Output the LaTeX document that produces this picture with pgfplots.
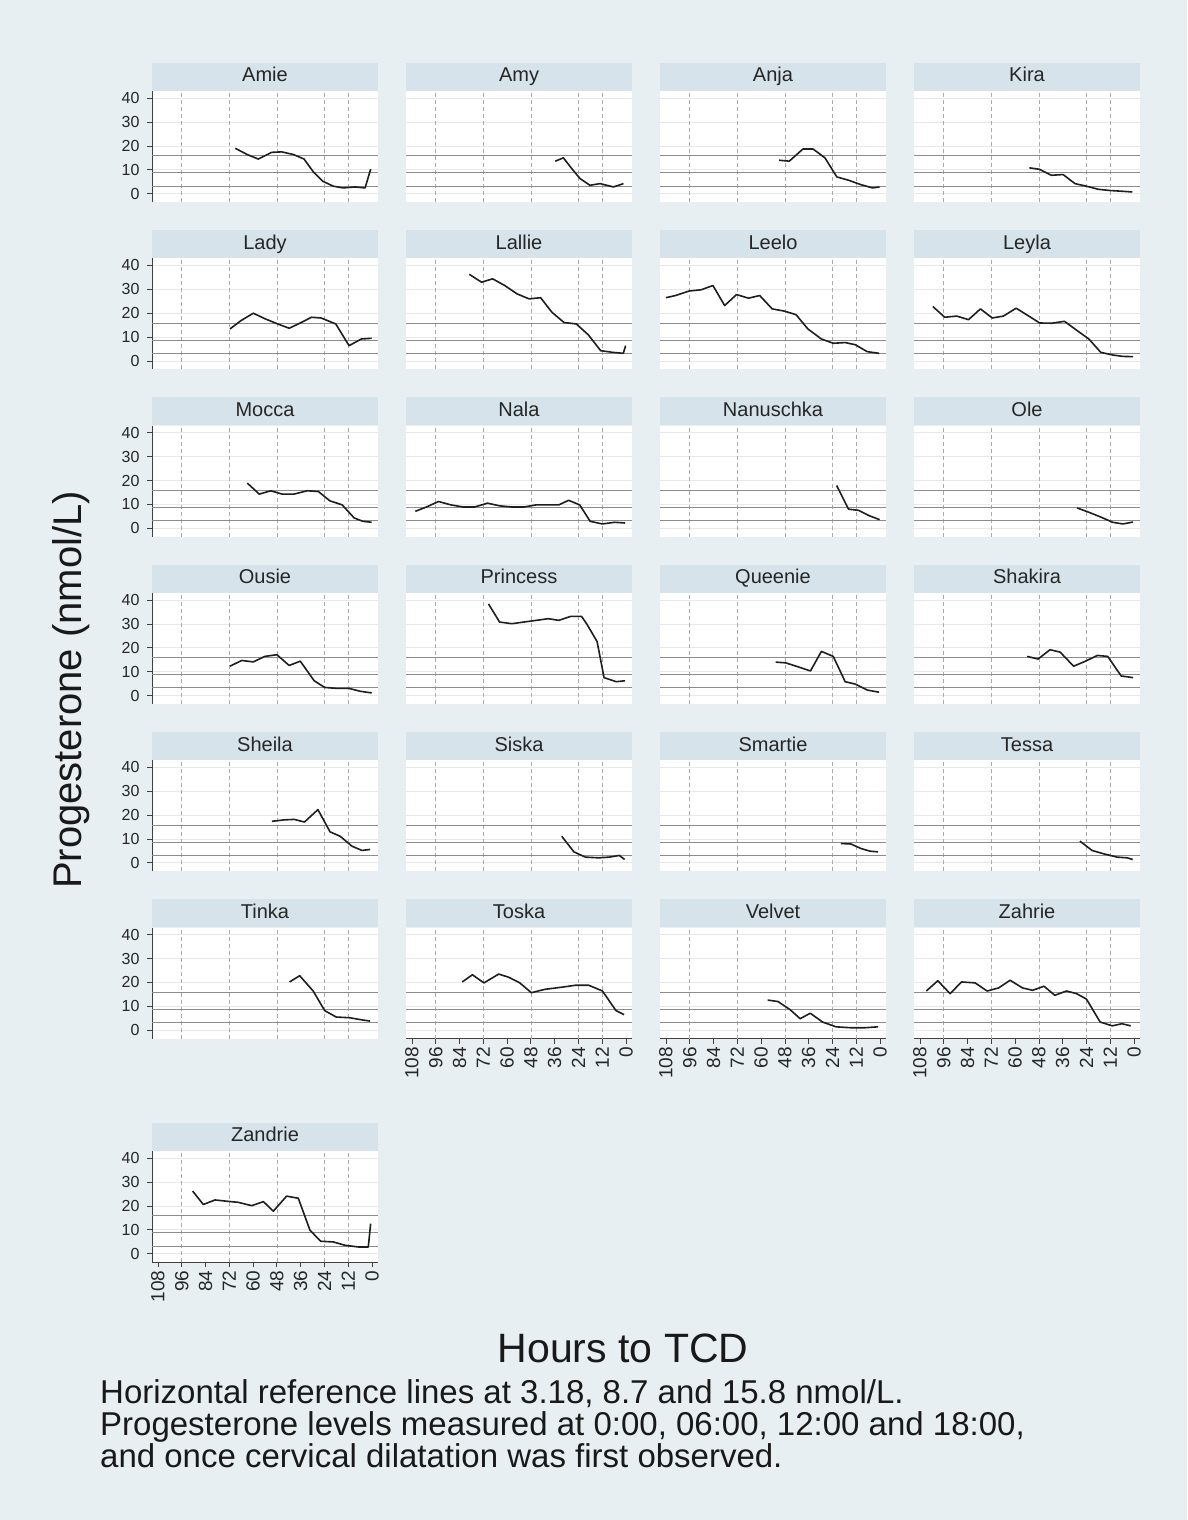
\documentclass[border=0pt]{standalone}
\usepackage{fontspec}
\setmainfont{Liberation Sans}
\usepackage{pgfplots}
\pgfplotsset{compat=1.18}
\definecolor{bgcol}{RGB}{232,239,242}
\definecolor{stripcol}{RGB}{214,227,234}
\definecolor{refgray}{RGB}{140,140,140}
\definecolor{gridgray}{RGB}{232,232,232}
\definecolor{vgray}{RGB}{170,170,170}
\definecolor{linecol}{RGB}{30,30,30}
\pgfplotsset{
 every axis title shift=0pt,
 panel/.style={width=226pt,height=111pt,scale only axis,anchor=north west,
  xmin=-3,xmax=111,x dir=reverse,ymin=-3.5,ymax=43,
  axis background/.style={fill=white},
  axis x line*=bottom,axis y line*=left,
  xtick={0,12,...,108},ytick={0,10,20,30,40},
  ymajorgrids,major grid style={gridgray,line width=0.8pt},
  extra x ticks={12,24,48,72,96},extra x tick labels={},
  extra x tick style={grid=major,major grid style={vgray,line width=0.6pt,dash pattern=on 4pt off 3pt},major tick length=0pt},
  extra y ticks={3.18,8.7,15.8},extra y tick labels={},
  extra y tick style={grid=major,major grid style={refgray,line width=1pt},major tick length=0pt},
  tick align=outside,major tick length=5pt,
  tick style={black!75,line width=0.8pt},
  ticklabel style={font=\fontsize{16}{16}\selectfont,text=black!85},
  /pgf/number format/assume math mode=true,
  title style={at={(0.5,1)},anchor=south,fill=stripcol,minimum width=226pt,inner xsep=0pt,inner ysep=4.5pt,text height=14.5pt,text depth=4.5pt,font=\fontsize{20}{20}\selectfont,text=black!85,yshift=0pt},
 },
 noy/.style={yticklabels={},ytick style={draw=none},y axis line style={draw=none}},
 withy/.style={y axis line style={black!75,line width=0.8pt},yticklabel style={xshift=-4pt}},
 nox/.style={xticklabels={},xtick style={draw=none},x axis line style={draw=none}},
 withx/.style={x axis line style={black!75,line width=0.8pt},xticklabel style={rotate=90,anchor=east,font=\fontsize{19}{19}\selectfont}},
 dataline/.style={linecol,line width=1.6pt,line join=round,mark=none},
}
\newcommand{\panel}[5]{\begin{axis}[panel,at={(#1pt,-#2pt)},title={#3},#4]
\addplot[dataline] coordinates {#5};
\end{axis}}
\begin{document}
\begin{tikzpicture}
\useasboundingbox (0,0) rectangle (1187pt,-1520pt);
\fill[bgcol] (0,0) rectangle (1187pt,-1520pt);
% Row 1
\panel{152}{91}{Amie}{withy,nox}{(69,19) (63,16.4) (57.4,14.5) (50.6,17.3) (45.6,17.5) (39.7,16.4) (34.3,14.5) (29.6,9.1) (24.9,5.2) (19.5,3.1) (14.5,2.4) (8.6,2.8) (3.5,2.4) (0.7,10.3)}
\panel{406}{91}{Amy}{noy,nox}{(35.7,13.6) (31.6,15.0) (27.4,10.5) (23.2,6.3) (18.2,3.5) (13.1,4.2) (9.8,3.5) (6.4,2.8) (1.3,4.2)}
\panel{660}{91}{Anja}{noy,nox}{(50.9,14.0) (45.8,13.6) (38.9,18.7) (33.8,18.7) (27.8,15.0) (21.8,7.0) (15.8,5.6) (9.8,3.8) (3.8,2.4) (0.3,2.8)}
\panel{914}{91}{Kira}{noy,nox}{(52.8,10.8) (47.7,10.2) (41.7,7.7) (35.8,8.0) (29.8,4.2) (23.9,3.1) (17.9,1.8) (11.9,1.3) (6.0,1.0) (0.9,0.7)}
% Row 2
\panel{152}{258.3}{Lady}{withy,nox}{(71.7,13.4) (66.1,16.9) (59.9,20.0) (53.8,17.6) (47.6,15.5) (41.8,13.7) (36.2,15.9) (30.6,18.3) (25.7,18.0) (18.3,15.5) (11.6,6.4) (5.4,9.2) (0.2,9.5)}
\panel{406}{258.3}{Lallie}{noy,nox}{(79.1,36.3) (72.9,33.0) (67.3,34.4) (61.2,31.6) (55.0,28.1) (48.9,26.0) (43.1,26.5) (37.4,20.4) (31.3,16.1) (25.1,15.5) (19.0,10.9) (12.8,4.3) (6.7,3.6) (1.4,3.2) (0.2,6.4)}
\panel{660}{258.3}{Leelo}{noy,nox}{(108,26.5) (103.2,27.4) (96.3,29.3) (90.3,29.8) (84.3,31.6) (78.4,23.2) (72.4,27.8) (66.4,26.3) (60.7,27.4) (54.4,21.8) (48.4,20.9) (42.4,19.4) (36.4,13.4) (29.6,9.2) (23.6,7.4) (17.6,7.7) (12.5,6.8) (6.5,3.9) (0.5,3.2)}
\panel{914}{258.3}{Leyla}{noy,nox}{(101.5,22.8) (95.5,18.3) (89.5,18.8) (83.5,17.3) (77.5,21.8) (71.5,18.0) (65.9,18.8) (59.5,22.1) (53.5,19.0) (47.6,15.9) (41.6,15.8) (35.1,16.6) (28.7,12.7) (22.8,9.2) (16.8,3.6) (10.8,2.5) (5.6,1.9) (0.5,1.8)}
% Row 3
\panel{152}{425.6}{Mocca}{withy,nox}{(62.9,18.9) (56.9,14.3) (51.1,15.7) (45.3,14.3) (39.4,14.3) (32.7,15.7) (27.1,15.4) (21.3,11.5) (15.1,9.8) (9.0,4.3) (4.6,2.9) (0.2,2.5)}
\panel{406}{425.6}{Nala}{noy,nox}{(106.3,7.1) (100.7,8.9) (94.6,11.2) (88.4,9.8) (82.2,8.9) (76.4,8.9) (69.9,10.5) (63.8,9.4) (57.6,8.9) (51.5,8.9) (45.3,9.8) (39.2,9.8) (33.9,9.8) (29.0,11.7) (23.4,9.8) (18.1,2.9) (12.0,1.8) (5.8,2.5) (0.5,2.2)}
\panel{660}{425.6}{Nanuschka}{noy,nox}{(21.9,17.9) (15.9,8.0) (10.8,7.5) (5.6,5.3) (0.2,3.6)}
\panel{914}{425.6}{Ole}{noy,nox}{(28.7,8.5) (22.8,6.7) (16.8,4.7) (10.8,2.5) (5.6,1.8) (0.5,2.6)}
% Row 4
\panel{152}{592.9}{Ousie}{withy,nox}{(71.7,12.3) (65.7,14.7) (59.9,14.1) (54.1,16.4) (48.0,17.1) (41.8,12.6) (36.2,14.4) (29.2,6.2) (23.9,3.4) (17.8,3.0) (11.6,3.0) (6.0,1.8) (0.2,1.1)}
\panel{406}{592.9}{Princess}{noy,nox}{(69.4,38.4) (63.8,30.8) (57.6,30.1) (51.5,30.8) (45.3,31.5) (39.2,32.2) (33.9,31.5) (27.8,33.2) (22.5,33.2) (19.9,30.1) (14.6,22.6) (11.1,7.5) (4.9,5.8) (0.5,6.2)}
\panel{660}{592.9}{Queenie}{noy,nox}{(52.7,14.0) (47.6,13.7) (41.6,12.1) (35.1,10.3) (29.6,18.5) (23.6,16.4) (17.6,5.8) (12.5,4.8) (6.5,2.3) (0.5,1.4)}
\panel{914}{592.9}{Shakira}{noy,nox}{(53.9,16.4) (48.4,15.3) (42.4,19.2) (37.3,18.2) (30.5,12.3) (24.5,14.4) (18.5,16.8) (13.3,16.4) (6.5,8.2) (0.5,7.5)}
% Row 5
\panel{152}{760.2}{Sheila}{withy,nox}{(50.5,17.4) (44.4,18.0) (39.2,18.2) (34.1,17.1) (27.3,22.3) (21.2,13.0) (16.0,11.1) (10.2,7.0) (5.1,5.2) (1.0,5.6)}
\panel{406}{760.2}{Siska}{noy,nox}{(32.4,11.1) (26.3,4.6) (20.5,2.4) (13.7,2.1) (8.5,2.4) (3.4,3.1) (0.7,1.4)}
\panel{660}{760.2}{Smartie}{noy,nox}{(19.8,8.1) (14.7,7.9) (9.6,6.0) (5.1,4.9) (1.0,4.6)}
\panel{914}{760.2}{Tessa}{noy,nox}{(27.3,9.1) (21.2,5.2) (15.4,3.8) (8.5,2.4) (3.4,2.1) (0.7,1.4)}
% Row 6
\panel{152}{927.5}{Tinka}{withy,nox}{(41.6,20.2) (36.5,22.8) (29.7,16.4) (23.9,8.2) (18.1,5.5) (11.3,5.2) (5.8,4.4) (1.0,3.8)}
\panel{406}{927.5}{Toska}{noy,withx}{(82.6,20.2) (77.5,23.2) (71.7,19.8) (64.2,23.5) (59.0,22.1) (53.6,19.8) (47.8,15.7) (40.9,17.1) (32.4,18.0) (25.6,18.8) (18.8,18.8) (11.9,16.4) (5.1,8.2) (1.0,6.5)}
\panel{660}{927.5}{Velvet}{noy,withx}{(56.7,12.6) (51.5,12.0) (45.4,8.6) (40.3,4.8) (35.2,7.1) (29.0,3.4) (22.2,1.4) (14.7,1.0) (7.8,1.0) (1.0,1.4)}
\panel{914}{927.5}{Zahrie}{noy,withx}{(104.8,16.4) (99.0,20.7) (92.8,15.3) (87.0,20.2) (80.2,19.8) (74.1,16.4) (68.3,17.7) (62.5,20.9) (56.3,17.7) (51.2,16.7) (45.4,18.4) (40.0,14.6) (34.1,16.4) (29.0,15.3) (24.0,13.0) (17.1,3.4) (11.0,1.8) (6.1,2.7) (1.7,1.8)}
% Row 7
\panel{152}{1151}{Zandrie}{withy,withx}{(90.5,26.2) (85.1,20.6) (79.2,22.5) (73.7,22.0) (67.5,21.5) (60.7,20.1) (54.8,21.8) (49.8,17.8) (43.1,24.1) (37.2,23.2) (31.3,9.8) (25.9,5.2) (19.5,4.9) (13.6,3.5) (6.9,2.8) (1.9,2.8) (0.7,12.6)}
% Texts
\node[anchor=base,font=\fontsize{41}{41}\selectfont,text=black!90] at (623pt,-1362pt) {Hours to TCD};
\node[rotate=90,anchor=base,font=\fontsize{40}{40}\selectfont,text=black!90] at (81pt,-690pt) {Progesterone (nmol/L)};
\node[anchor=base west,inner sep=0pt,font=\fontsize{33}{33}\selectfont,text=black!90] at (100pt,-1403pt) {Horizontal reference lines at 3.18, 8.7 and 15.8 nmol/L.};
\node[anchor=base west,inner sep=0pt,font=\fontsize{33}{33}\selectfont,text=black!90] at (100pt,-1435pt) {Progesterone levels measured at 0:00, 06:00, 12:00 and 18:00,};
\node[anchor=base west,inner sep=0pt,font=\fontsize{33}{33}\selectfont,text=black!90] at (100pt,-1467pt) {and once cervical dilatation was first observed.};
\end{tikzpicture}
\end{document}
